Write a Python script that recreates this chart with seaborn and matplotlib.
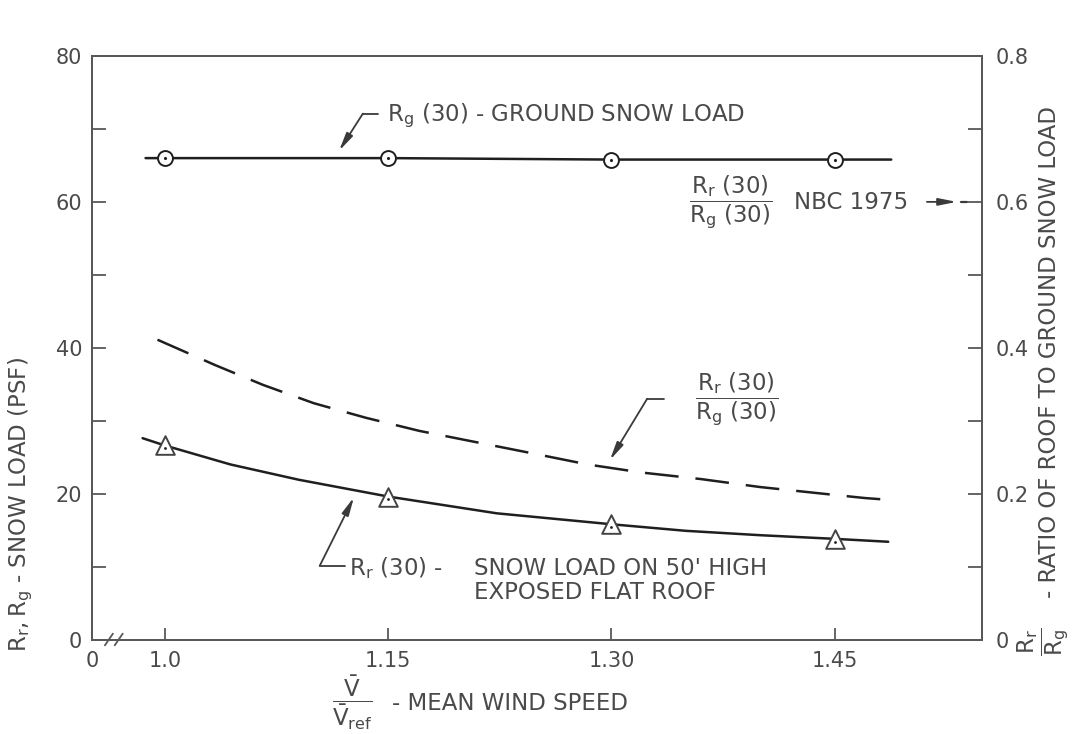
import matplotlib
matplotlib.use("Agg")
import matplotlib.pyplot as plt
import seaborn as sns

# Mean wind speed ratio V/Vref at the marked stations
x_markers = [1.00, 1.15, 1.30, 1.45]

# Rg(30) - ground snow load (psf)
rg_x = [0.987, 1.00, 1.15, 1.30, 1.45, 1.488]
rg_y = [66.0, 66.0, 66.0, 65.8, 65.8, 65.8]
rg_marker_y = [66.0, 66.0, 65.8, 65.8]

# Rr(30) - snow load on 50' high exposed flat roof (psf)
rr_x = [0.985, 1.00, 1.044, 1.09, 1.15, 1.223, 1.30, 1.35, 1.40, 1.45, 1.486]
rr_y = [27.6, 26.6, 24.0, 21.9, 19.6, 17.3, 15.8, 14.9, 14.3, 13.8, 13.4]
rr_marker_y = [26.6, 19.6, 15.8, 13.8]

# Rr(30)/Rg(30) - ratio of roof to ground snow load
ratio_x = [0.995, 1.034, 1.066, 1.10, 1.135, 1.171, 1.245, 1.284, 1.32,
           1.36, 1.40, 1.437, 1.47, 1.483]
ratio_y = [0.411, 0.376, 0.349, 0.324, 0.304, 0.286, 0.256, 0.240, 0.229,
           0.220, 0.209, 0.201, 0.194, 0.192]

# NBC 1975 ratio marked on the right-hand scale
nbc_ratio = 0.6

# Axis ticks
x_ticks = [0.951, 1.00, 1.15, 1.30, 1.45]
x_ticklabels = ["0", "1.0", "1.15", "1.30", "1.45"]
left_ticks = [0, 20, 40, 60, 80]
left_minor = [10, 30, 50, 70]
right_ticks = [0, 0.2, 0.4, 0.6, 0.8]
right_ticklabels = ["0", "0.2", "0.4", "0.6", "0.8"]
right_minor = [0.1, 0.3, 0.5, 0.7]

sns.set_theme(style="white")
ink = "#1f1f1f"
txt = "#4a4a4a"
frame = "#585858"
lead = "#3a3a3a"
plt.rcParams["font.family"] = ["DejaVu Sans"]
plt.rcParams["mathtext.fontset"] = "dejavusans"

W, H = 1084, 734
fig = plt.figure(figsize=(W / 100, H / 100), dpi=100, facecolor="white")
L, R, T, B = 92, 982, 56, 639.5
ax = fig.add_axes([L / W, 1 - B / H, (R - L) / W, (B - T) / H])
ax2 = ax.twinx()

fs = 15      # tick labels
fl = 16.5    # titles and notes


def px(x, y):
    """Figure-fraction position of a pixel location (origin top-left)."""
    return x / W, 1 - y / H


# curves
sns.lineplot(x=rg_x, y=rg_y, ax=ax, color=ink, lw=1.8, sort=False,
             estimator=None, zorder=3)
sns.lineplot(x=rr_x, y=rr_y, ax=ax, color=ink, lw=1.8, sort=False,
             estimator=None, zorder=3)
sns.lineplot(x=ratio_x, y=ratio_y, ax=ax2, color=ink, lw=1.8, sort=False,
             estimator=None, zorder=3)
ax2.lines[-1].set_dashes([13.5, 6.8])

# markers with centre dots
sns.scatterplot(x=x_markers, y=rg_marker_y, ax=ax, marker="o", s=115,
                facecolor="white", edgecolor=ink, linewidth=1.4, zorder=5)
sns.scatterplot(x=x_markers, y=rg_marker_y, ax=ax, marker="o", s=5,
                color=ink, linewidth=0, zorder=6)
sns.scatterplot(x=x_markers, y=rr_marker_y, ax=ax, marker="^", s=180,
                facecolor="white", edgecolor="#444444", linewidth=1.4, zorder=5)
sns.scatterplot(x=x_markers, y=[v - 0.4 for v in rr_marker_y], ax=ax,
                marker="o", s=4, color=ink, linewidth=0, zorder=6)

# axes, ticks
ax.set_xlim(0.951, 1.549)
ax.set_ylim(0, 80)
ax2.set_ylim(0, 0.8)
ax.set_xticks(x_ticks)
ax.set_xticklabels(x_ticklabels)
ax.set_yticks(left_ticks)
ax.set_yticks(left_minor, minor=True)
ax2.set_yticks(right_ticks)
ax2.set_yticklabels(right_ticklabels)
ax2.set_yticks(right_minor, minor=True)
ax.set_xlabel("")
ax.set_ylabel("")
ax2.set_ylabel("")

for a in (ax, ax2):
    for sp in a.spines.values():
        sp.set_color(frame)
        sp.set_linewidth(1.4)
ax.tick_params(axis="x", which="both", direction="in", length=9, width=1.3,
               color=frame, labelcolor=txt, labelsize=fs, pad=8,
               bottom=True, top=False)
ax.tick_params(axis="y", which="both", direction="in", length=10, width=1.3,
               color=frame, labelcolor=txt, labelsize=fs, pad=7,
               left=True, right=False)
ax2.tick_params(axis="y", which="both", direction="in", length=10, width=1.3,
                color=frame, labelcolor=txt, labelsize=fs, pad=10,
                left=False, right=True)

# axis break on the abscissa
for cx in (0.0190, 0.0300):
    ax.plot([cx - 0.0045, cx + 0.0045], [-0.010, 0.010], transform=ax.transAxes,
            color=frame, lw=1.3, clip_on=False, zorder=7)

# left title
fig.text(*px(21, 652), r"$\mathrm{R_r , R_g}$ - SNOW LOAD (PSF)",
         rotation=90, ha="center", va="bottom", fontsize=fl, color=txt)
# right title: ratio symbol, then the words
fig.text(*px(1043, 642), r"$\dfrac{\mathrm{R_r}}{\mathrm{R_g}}$",
         rotation=90, ha="center", va="center", fontsize=fl, color=txt)
fig.text(*px(1050, 598), "- RATIO OF ROOF TO GROUND SNOW LOAD",
         rotation=90, ha="center", va="bottom", fontsize=fl, color=txt)
# bottom title
fig.text(*px(352, 703),
         r"$\dfrac{\bar{\mathrm{V}}}{\bar{\mathrm{V}}_{\mathrm{ref}}}$",
         ha="center", va="center", fontsize=fl, color=txt)
fig.text(*px(392, 703), "- MEAN WIND SPEED", ha="left", va="center",
         fontsize=fl, color=txt)

arrow = dict(arrowstyle="-|>,head_length=0.9,head_width=0.18", color=lead,
             lw=1.3, shrinkA=0, shrinkB=0)

# Rg(30) note
ax.text(1.149, 71.8, r"$\mathrm{R_g}$ (30) - GROUND SNOW LOAD", ha="left",
        va="center", fontsize=fl, color=txt)
ax.plot([1.143, 1.133], [72.1, 72.1], color=lead, lw=1.3)
ax.annotate("", xy=(1.117, 67.0), xytext=(1.133, 72.1), arrowprops=arrow)

# NBC 1975 ratio note
ax.text(1.380, 60.0, r"$\dfrac{\mathrm{R_r\ (30)}}{\mathrm{R_g\ (30)}}$",
        ha="center", va="center", fontsize=fl, color=txt)
ax.text(1.423, 59.9, "NBC 1975", ha="left", va="center", fontsize=fl, color=txt)
ax2.annotate("", xy=(1.532, nbc_ratio), xytext=(1.512, nbc_ratio), arrowprops=arrow)
ax2.plot([1.535, 1.539], [nbc_ratio, nbc_ratio], color=lead, lw=1.6)

# ratio curve note
ax.text(1.384, 33.0, r"$\dfrac{\mathrm{R_r\ (30)}}{\mathrm{R_g\ (30)}}$",
        ha="center", va="center", fontsize=fl, color=txt)
ax.plot([1.335, 1.324], [33.0, 33.0], color=lead, lw=1.3)
ax.annotate("", xy=(1.299, 24.6), xytext=(1.324, 33.0), arrowprops=arrow)

# Rr(30) note
ax.text(1.1868, 9.8, r"$\mathrm{R_r}$ (30) -", ha="right", va="center",
        fontsize=fl, color=txt)
ax.text(1.208, 8.15, "SNOW LOAD ON 50' HIGH\nEXPOSED FLAT ROOF", ha="left",
        va="center", multialignment="left", fontsize=fl, color=txt,
        linespacing=1.05)
ax.plot([1.121, 1.104], [10.1, 10.1], color=lead, lw=1.3)
ax.annotate("", xy=(1.127, 19.5), xytext=(1.104, 10.1), arrowprops=arrow)

fig.savefig("out.png", dpi=100, facecolor="white")
